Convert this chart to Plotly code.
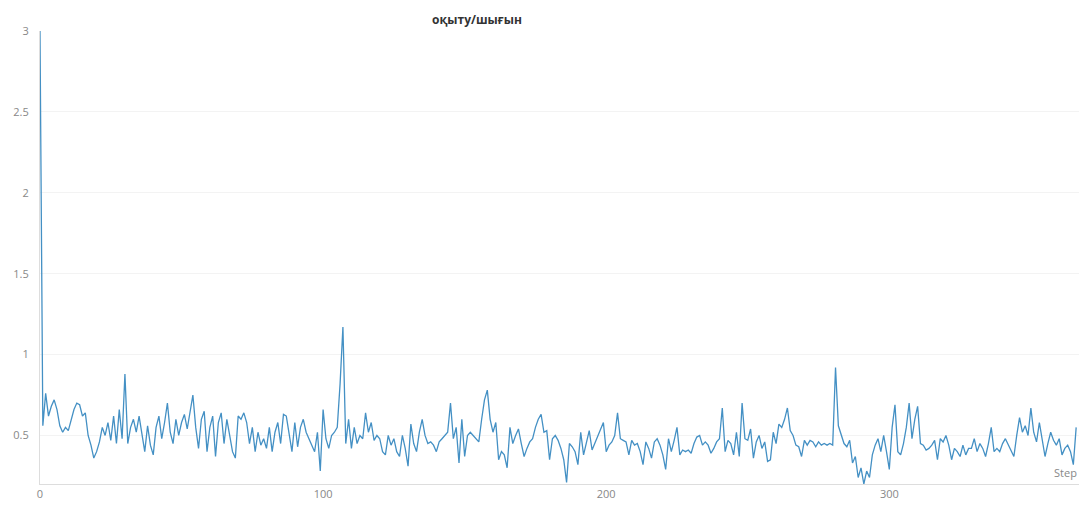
import plotly.graph_objects as go

title_text = "оқыту/шығын"
x_label = "Step"

loss_0_39 = [3.0, 0.56, 0.76, 0.62, 0.68, 0.72, 0.66, 0.56, 0.52, 0.55,
             0.53, 0.60, 0.66, 0.70, 0.69, 0.62, 0.64, 0.50, 0.44, 0.36,
             0.40, 0.46, 0.55, 0.50, 0.58, 0.47, 0.62, 0.45, 0.66, 0.48,
             0.88, 0.45, 0.55, 0.60, 0.52, 0.62, 0.50, 0.40, 0.56, 0.44]
loss_40_71 = [0.38, 0.55, 0.62, 0.48, 0.58, 0.70, 0.52, 0.45, 0.60, 0.50,
              0.58, 0.63, 0.54, 0.66, 0.75, 0.55, 0.42, 0.60, 0.65, 0.40,
              0.55, 0.62, 0.37, 0.58, 0.64, 0.45, 0.60, 0.50, 0.40, 0.36,
              0.62, 0.60]
loss_72_108 = [0.64, 0.58, 0.45, 0.55, 0.40, 0.52, 0.44, 0.48,
               0.42, 0.55, 0.40, 0.52, 0.58, 0.45, 0.63, 0.62, 0.50, 0.40,
               0.58, 0.43, 0.55, 0.60, 0.52, 0.48, 0.44, 0.40, 0.52, 0.28,
               0.66, 0.48, 0.42, 0.50, 0.52, 0.55, 0.82, 1.17, 0.45]
loss_109_145 = [0.60, 0.42, 0.55, 0.45, 0.50, 0.48, 0.64, 0.52, 0.58, 0.47,
                0.50, 0.48, 0.40, 0.38, 0.50, 0.44, 0.48, 0.40, 0.37, 0.50,
                0.42, 0.31, 0.57, 0.45, 0.40, 0.52, 0.60, 0.50, 0.45, 0.46,
                0.44, 0.40, 0.46, 0.48, 0.50, 0.52, 0.70]
loss_146_182 = [0.48, 0.55, 0.33, 0.60, 0.37, 0.50, 0.52, 0.50, 0.48, 0.46,
                0.60, 0.72, 0.78, 0.60, 0.52, 0.58, 0.35, 0.40, 0.38, 0.30,
                0.55, 0.45, 0.50, 0.54, 0.45, 0.37, 0.42, 0.46, 0.48, 0.55,
                0.60, 0.63, 0.52, 0.53, 0.35, 0.48, 0.50]
loss_183_218 = [0.47, 0.42, 0.35, 0.21, 0.45, 0.43, 0.40, 0.32, 0.52, 0.38,
                0.46, 0.53, 0.41, 0.45, 0.50, 0.54, 0.58, 0.40, 0.44, 0.46,
                0.50, 0.64, 0.48, 0.47, 0.46, 0.38, 0.47, 0.44, 0.45, 0.40,
                0.32, 0.46, 0.42, 0.36, 0.46, 0.48]
loss_219_255 = [0.44, 0.38, 0.29, 0.48, 0.40, 0.47, 0.55, 0.38, 0.41, 0.40,
                0.41, 0.39, 0.45, 0.49, 0.50, 0.44, 0.46, 0.44, 0.39, 0.42,
                0.46, 0.48, 0.67, 0.40, 0.47, 0.45, 0.38, 0.52, 0.37, 0.70,
                0.48, 0.47, 0.54, 0.36, 0.46, 0.50, 0.42]
loss_256_292 = [0.46, 0.34, 0.35, 0.52, 0.45, 0.57, 0.55, 0.60, 0.67, 0.53,
                0.50, 0.44, 0.43, 0.37, 0.47, 0.44, 0.47, 0.46, 0.43, 0.46,
                0.44, 0.45, 0.44, 0.45, 0.44, 0.92, 0.56, 0.50, 0.45, 0.43,
                0.47, 0.33, 0.37, 0.24, 0.30, 0.20, 0.28]
loss_293_328 = [0.24, 0.38, 0.44, 0.48, 0.40, 0.50, 0.40, 0.29, 0.55, 0.69,
                0.40, 0.38, 0.45, 0.55, 0.70, 0.48, 0.60, 0.68, 0.45, 0.44,
                0.41, 0.42, 0.44, 0.47, 0.35, 0.48, 0.46, 0.50, 0.44, 0.35,
                0.42, 0.40, 0.37, 0.44, 0.38, 0.42]
loss_329_366 = [0.42, 0.48, 0.40, 0.45, 0.42, 0.37, 0.45, 0.55, 0.40, 0.42,
                0.40, 0.45, 0.48, 0.44, 0.40, 0.37, 0.50, 0.61, 0.52, 0.56,
                0.50, 0.67, 0.52, 0.46, 0.58, 0.46, 0.37, 0.45, 0.52, 0.47,
                0.44, 0.48, 0.38, 0.42, 0.44, 0.40, 0.32, 0.55]

loss = (loss_0_39 + loss_40_71 + loss_72_108 + loss_109_145 + loss_146_182 +
        loss_183_218 + loss_219_255 + loss_256_292 + loss_293_328 + loss_329_366)
steps = list(range(len(loss)))

x_ticks = [0, 100, 200, 300]
y_ticks = [0.5, 1, 1.5, 2, 2.5, 3]
y_tick_text = ["0.5", "1", "1.5", "2", "2.5", "3"]

fig = go.Figure()
fig.add_trace(go.Scatter(x=steps, y=loss, mode="lines",
                         line=dict(color="#4490c4", width=1.3),
                         showlegend=False, hoverinfo="x+y"))

fig.update_layout(
    width=1079, height=507,
    margin=dict(l=40, r=0, t=31, b=23),
    paper_bgcolor="white", plot_bgcolor="white",
    font=dict(family="Open Sans, Noto Sans, sans-serif", color="#888888", size=11),
    title=dict(text="<b>" + title_text + "</b>", x=0.442, xanchor="center", y=0.96,
               yanchor="middle",
               font=dict(size=12, color="#333333", family="Open Sans, Noto Sans, sans-serif")),
    xaxis=dict(range=[0, 367], tickvals=x_ticks, showgrid=False, zeroline=False,
               showline=True, linecolor="#dddddd", linewidth=1, ticks="",
               tickfont=dict(size=11, color="#888888")),
    yaxis=dict(range=[0.2, 3.0], tickvals=y_ticks, ticktext=y_tick_text,
               showgrid=True, gridcolor="#f3f3f3", gridwidth=1, zeroline=False,
               showline=True, linecolor="#dddddd", linewidth=1, ticks="",
               ticklabelstandoff=8, tickfont=dict(size=11, color="#888888")),
    annotations=[dict(text=x_label, x=1.0, y=0.27, xref="paper", yref="y",
                      xanchor="right", yanchor="middle", showarrow=False,
                      font=dict(size=11, color="#888888"))],
)

fig.write_html("out.html")
